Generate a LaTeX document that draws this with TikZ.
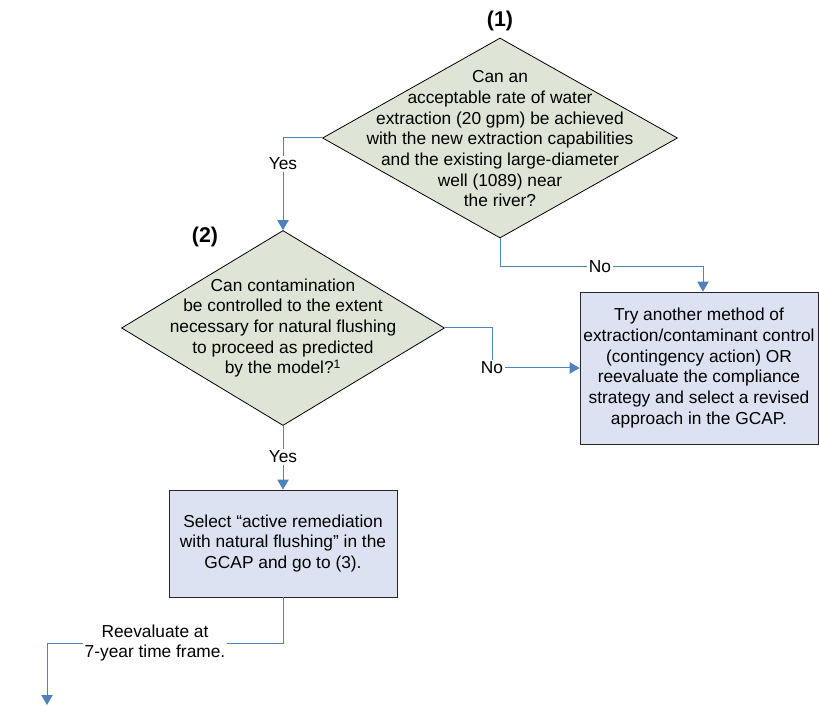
\documentclass[tikz,border=0pt]{standalone}
\usepackage{fontspec}
\setmainfont{Liberation Sans}
\usetikzlibrary{arrows.meta,shapes.geometric}
\definecolor{dfill}{RGB}{222,228,214}
\definecolor{bfill}{RGB}{220,226,241}
\definecolor{lblue}{RGB}{79,129,189}
\begin{document}
\begin{tikzpicture}[x=0.75pt,y=-0.75pt,
  font=\fontsize{13}{15.5}\selectfont,
  decision/.style={diamond, draw=black, line width=0.6pt, fill=dfill, inner sep=0pt, aspect=1},
  actionbox/.style={draw=black!85, line width=0.6pt, fill=bfill, inner sep=0pt, align=center},
  qtext/.style={align=center, inner sep=0pt},
  lbl/.style={inner sep=1pt, align=center},
  conn/.style={draw=lblue, line width=0.75pt},
  arr/.style={conn, -{Triangle[width=8.5pt,length=7.5pt]}},
  numlabel/.style={font=\fontsize{16}{18}\selectfont\bfseries}]
\useasboundingbox (0,0) rectangle (819,706);
% decisions
\node[decision, minimum width=266.25pt, minimum height=150pt] (d1) at (500,138) {};
\node[qtext] (t1) at (500,139) {Can an\\acceptable rate of water\\extraction (20 gpm) be achieved\\with the new extraction capabilities\\and the existing large-diameter\\well (1089) near\\the river?};
\node[decision, minimum width=242.25pt, minimum height=146.25pt] (d2) at (283,328) {};
\node[qtext] (t2) at (283,328) {Can contamination\\be controlled to the extent\\necessary for natural flushing\\to proceed as predicted\\by the model?\textsuperscript{1}};
% action boxes
\node[actionbox, minimum width=178.5pt, minimum height=114pt] (boxr) at (699,368) {Try another method of\\extraction/contaminant control\\(contingency action) OR\\reevaluate the compliance\\strategy and select a revised\\approach in the GCAP.};
\node[actionbox, minimum width=171pt, minimum height=80.25pt] (box2) at (283,543.5) {Select \textquotedblleft active remediation\\with natural flushing\textquotedblright{} in the\\GCAP and go to (3).};
% number labels
\node[numlabel] (n1) at (500,21) {(1)};
\node[numlabel] (n2) at (205,237) {(2)};
% connector labels
\node[lbl] (yes1) at (283,164) {Yes};
\node[lbl] (no1) at (600,267) {No};
\node[lbl] (no2) at (492,368) {No};
\node[lbl] (yes2) at (283,457) {Yes};
\node[lbl] (reeval) at (155,643) {Reevaluate at\\7-year time frame.};
\coordinate (endpt) at (47,705);
% connectors
\draw[conn] (d1.west) -| (yes1.north);
\draw[arr] (yes1.south) -- (d2.north);
\draw[conn] (d1.south) |- (no1.west);
\draw[arr] (no1.east) -| ([xshift=3pt]boxr.north);
\draw[conn] (d2.east) -| (no2.north);
\draw[arr] (no2.east) -- (boxr.west);
\draw[conn] (d2.south) -- (yes2.north);
\draw[arr] (yes2.south) -- (box2.north);
\draw[conn] (box2.south) |- (reeval.east);
\draw[arr] (reeval.west) -| (endpt);
\end{tikzpicture}
\end{document}
